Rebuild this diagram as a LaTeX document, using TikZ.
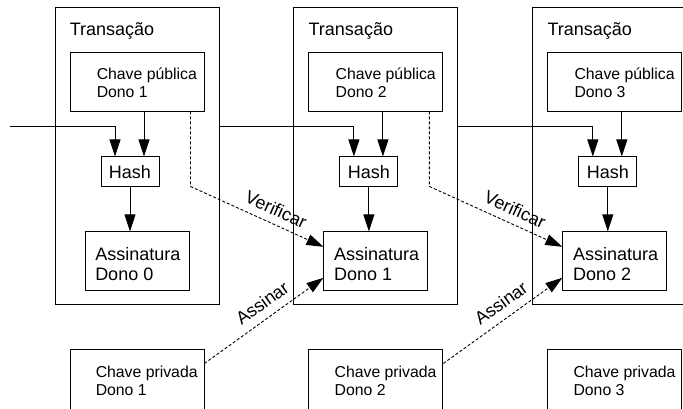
\documentclass[tikz,border=0pt]{standalone}
\usepackage{fontspec}
\setmainfont{Liberation Sans}
\usetikzlibrary{arrows.meta, positioning}

\tikzset{
    txbox/.style={rectangle, draw=black, line width=0.9pt, minimum width=164pt, minimum height=297pt, inner sep=0pt},
    keybox/.style={rectangle, draw=black, line width=0.9pt, minimum width=134pt, minimum height=59pt, inner sep=0pt},
    privbox/.style={keybox, minimum height=64pt},
    hashbox/.style={rectangle, draw=black, line width=0.9pt, minimum width=58pt, minimum height=30pt, inner sep=0pt},
    signbox/.style={rectangle, draw=black, line width=0.9pt, minimum width=104pt, minimum height=59pt, inner sep=0pt},
    bigtext/.style={font=\fontsize{18}{20}\selectfont},
    smalltext/.style={font=\fontsize{15.8}{18}\selectfont},
    intext/.style={anchor=base west, inner sep=0pt, align=left},
    arrow/.style={line width=0.9pt, -{Triangle[length=17pt, width=11pt]}},
    dasharrow/.style={arrow, dash pattern=on 3pt off 2pt}
}

\begin{document}
\begin{tikzpicture}[x=1pt, y=-1pt, every node/.style={bigtext}]
    \useasboundingbox (0,0) rectangle (683,408);

    % Transactions
    \node (tx1) [txbox] at (137,155.5) {};
    \node (tx2) [txbox, right=74pt of tx1] {};
    \node (tx3) [txbox, right=74pt of tx2] {};
    \node (tx1t) [intext] at ([shift={(15,29)}]tx1.north west) {Transação};
    \node (tx2t) [intext] at ([shift={(15,29)}]tx2.north west) {Transação};
    \node (tx3t) [intext] at ([shift={(15,29)}]tx3.north west) {Transação};

    % Public keys
    \node (pk1) [keybox, below=45pt of tx1.north] {};
    \node (pk2) [keybox, below=45pt of tx2.north] {};
    \node (pk3) [keybox, below=45pt of tx3.north] {};
    \node (pk1t) [intext, smalltext] at ([shift={(27,46)}]pk1.north west) {Chave pública\\Dono 1};
    \node (pk2t) [intext, smalltext] at ([shift={(27,46)}]pk2.north west) {Chave pública\\Dono 2};
    \node (pk3t) [intext, smalltext] at ([shift={(27,46)}]pk3.north west) {Chave pública\\Dono 3};

    % Hashes and signatures
    \node (hash1) [hashbox, below=45pt of pk1, xshift=-7pt] {Hash};
    \node (hash2) [hashbox, below=45pt of pk2, xshift=-7pt] {Hash};
    \node (hash3) [hashbox, below=45pt of pk3, xshift=-7pt] {Hash};
    \node (ass1) [signbox, below=44pt of hash1, xshift=7pt] {};
    \node (ass2) [signbox, below=44pt of hash2, xshift=7pt] {};
    \node (ass3) [signbox, below=44pt of hash3, xshift=7pt] {};
    \node (ass1t) [intext] at ([shift={(10.5,49)}]ass1.north west) {Assinatura\\Dono 0};
    \node (ass2t) [intext] at ([shift={(10.5,49)}]ass2.north west) {Assinatura\\Dono 1};
    \node (ass3t) [intext] at ([shift={(10.5,49)}]ass3.north west) {Assinatura\\Dono 2};

    % Private keys
    \node (pv1) [privbox, below=45pt of tx1] {};
    \node (pv2) [privbox, below=45pt of tx2] {};
    \node (pv3) [privbox, below=45pt of tx3] {};
    \node (pv1t) [intext, smalltext] at ([shift={(26,46)}]pv1.north west) {Chave privada\\Dono 1};
    \node (pv2t) [intext, smalltext] at ([shift={(26,46)}]pv2.north west) {Chave privada\\Dono 2};
    \node (pv3t) [intext, smalltext] at ([shift={(26,46)}]pv3.north west) {Chave privada\\Dono 3};

    % Connections
    \coordinate (in0) at (10,126);
    \draw [arrow] (in0) -| ([xshift=-15pt]hash1.north);
    \draw [arrow] ([yshift=29.5pt]tx1.east) -| ([xshift=-15pt]hash2.north);
    \draw [arrow] ([yshift=29.5pt]tx2.east) -| ([xshift=-15pt]hash3.north);
    \draw [arrow] ([xshift=14pt]hash1.north |- pk1.south) -- ([xshift=14pt]hash1.north);
    \draw [arrow] ([xshift=14pt]hash2.north |- pk2.south) -- ([xshift=14pt]hash2.north);
    \draw [arrow] ([xshift=14pt]hash3.north |- pk3.south) -- ([xshift=14pt]hash3.north);
    \draw [arrow] (hash1) -- (hash1 |- ass1.north);
    \draw [arrow] (hash2) -- (hash2 |- ass2.north);
    \draw [arrow] (hash3) -- (hash3 |- ass3.north);

    \draw [dasharrow] ([xshift=-14pt]pk1.south east) -- ++(0,75) -- node[sloped, above=4pt, pos=0.6] {Verificar} ([yshift=14.5pt]ass2.west);
    \draw [dasharrow] ([xshift=-14pt]pk2.south east) -- ++(0,75) -- node[sloped, above=4pt, pos=0.6] {Verificar} ([yshift=14.5pt]ass3.west);
    \draw [dasharrow] ([yshift=-14pt]pv1.north east) -- node[sloped, above=5pt, pos=0.56] {Assinar} ([yshift=-16.5pt]ass2.west);
    \draw [dasharrow] ([yshift=-14pt]pv2.north east) -- node[sloped, above=5pt, pos=0.56] {Assinar} ([yshift=-16.5pt]ass3.west);
\end{tikzpicture}
\end{document}
